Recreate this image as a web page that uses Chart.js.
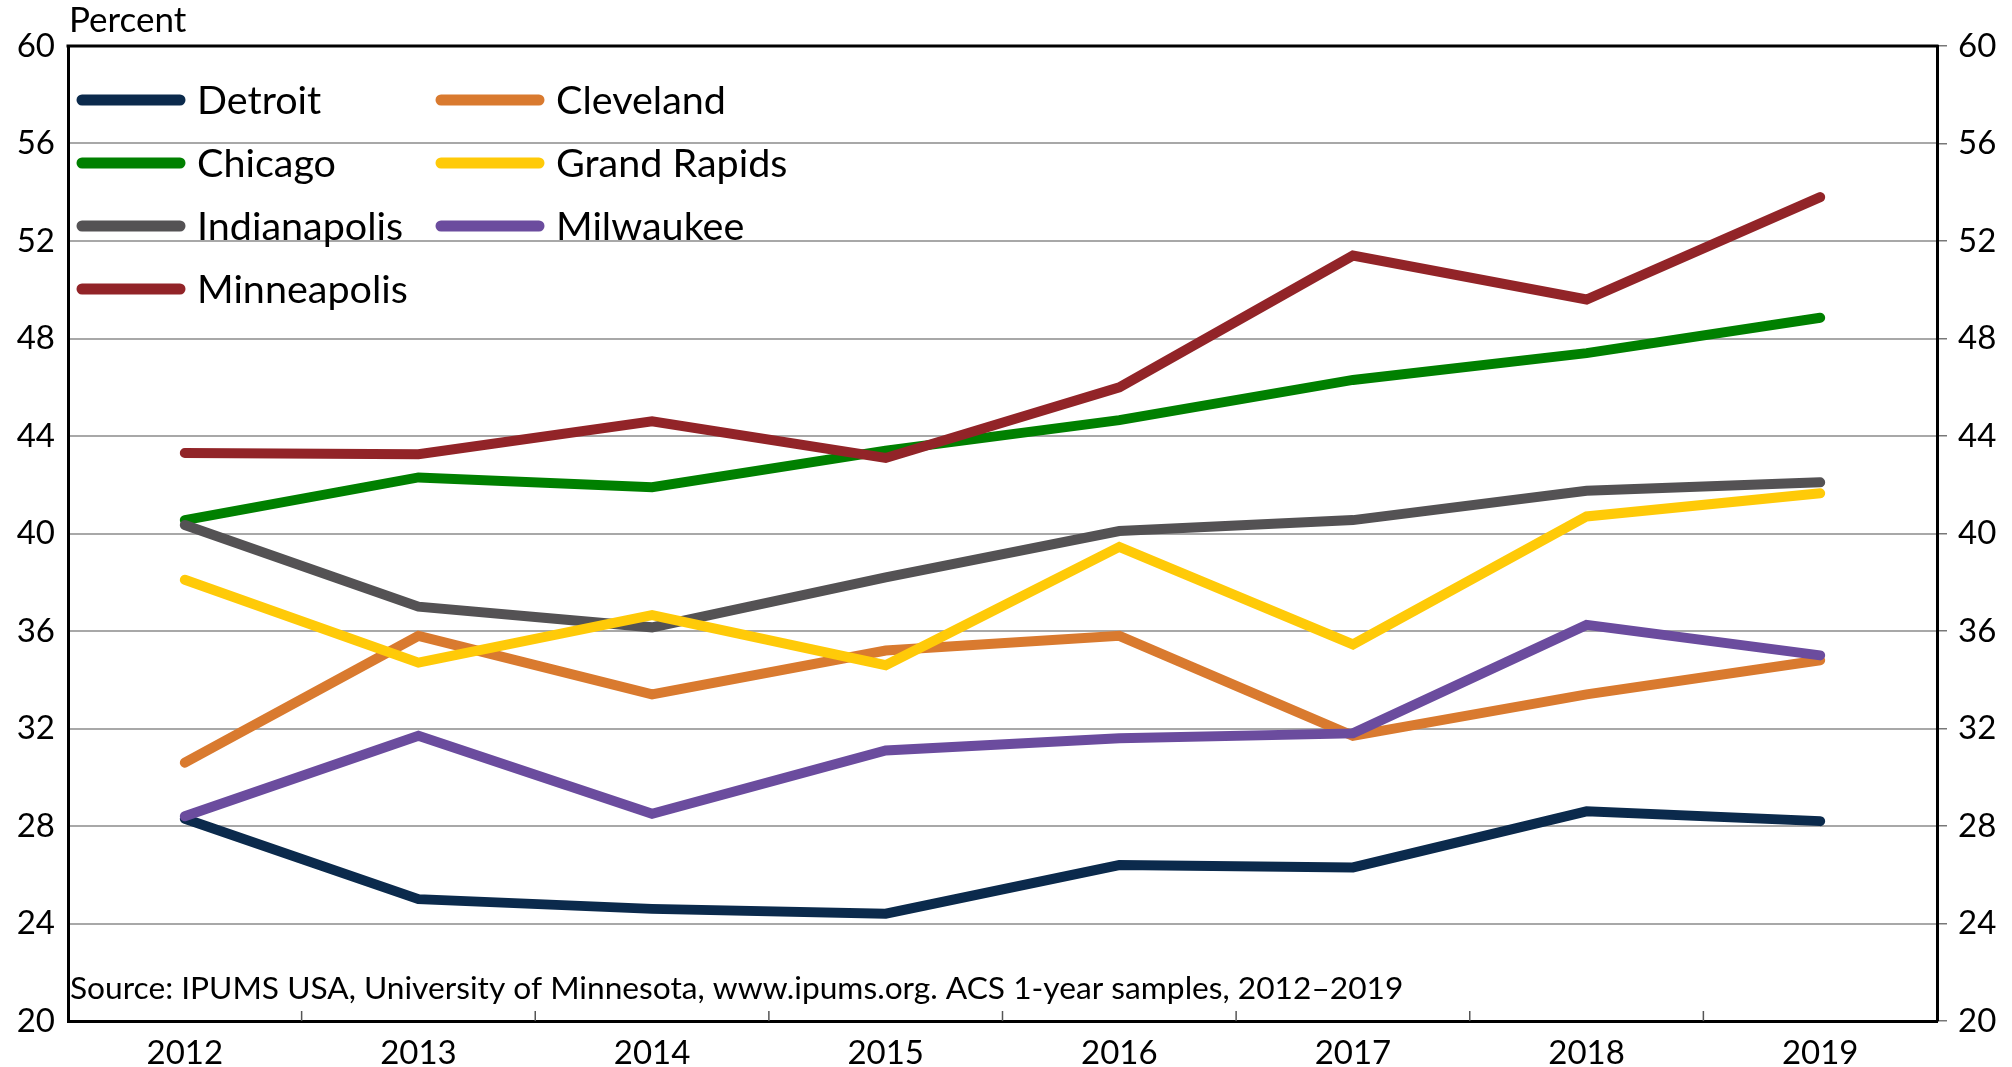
<!DOCTYPE html>
<html>
<head>
<meta charset="utf-8">
<script src="https://cdn.jsdelivr.net/npm/chart.js@4.4.1/dist/chart.umd.min.js"></script>
<style>
  html, body { margin: 0; padding: 0; background: #fff; }
  #wrap { width: 2012px; height: 1067px; }
</style>
</head>
<body>
<div id="wrap"><canvas id="cityChart" width="2012" height="1067"></canvas></div>
<script>
// years on the x axis
const years = ['2012', '2013', '2014', '2015', '2016', '2017', '2018', '2019'];

// percent
const detroit      = [28.3, 25.0, 24.6, 24.4, 26.4, 26.3, 28.6, 28.2];
const chicago      = [40.55, 42.3, 41.9, 43.4, 44.65, 46.3, 47.4, 48.85];
const indianapolis = [40.35, 37.0, 36.15, 38.2, 40.1, 40.55, 41.75, 42.1];
const minneapolis  = [43.3, 43.25, 44.6, 43.1, 46.0, 51.4, 49.6, 53.8];
const cleveland    = [30.6, 35.8, 33.4, 35.2, 35.8, 31.7, 33.4, 34.8];
const grandRapids  = [38.1, 34.7, 36.65, 34.6, 39.45, 35.45, 40.7, 41.65];
const milwaukee    = [28.4, 31.7, 28.5, 31.1, 31.6, 31.8, 36.25, 35.0];

const yMin = 20, yMax = 60, yStep = 4;

const FONT = 'Lato, "Noto Sans", sans-serif';

const series = [
    { label: 'Detroit',      data: detroit,      color: '#0b2a4c' },
    { label: 'Chicago',      data: chicago,      color: '#008000' },
    { label: 'Indianapolis', data: indianapolis, color: '#545254' },
    { label: 'Minneapolis',  data: minneapolis,  color: '#922428' },
    { label: 'Cleveland',    data: cleveland,    color: '#d97a2f' },
    { label: 'Grand Rapids', data: grandRapids,  color: '#ffca08' },
    { label: 'Milwaukee',    data: milwaukee,    color: '#6b4c9e' },
];

// two legend columns, top to bottom
const legendCols = [
    ['Detroit', 'Chicago', 'Indianapolis', 'Minneapolis'],
    ['Cleveland', 'Grand Rapids', 'Milwaukee'],
];

const sourceNote = 'Source: IPUMS USA, University of Minnesota, www.ipums.org. ACS 1-year samples, 2012\u20132019';

// legend, unit label, top border, x ticks and source note
const extras = {
    id: 'extras',
    afterDraw(chart) {
        const ctx = chart.ctx;
        const area = chart.chartArea;
        const x = chart.scales.x;
        ctx.save();

        // top border
        ctx.strokeStyle = '#000';
        ctx.lineWidth = 3;
        ctx.beginPath();
        ctx.moveTo(area.left - 1.5, area.top);
        ctx.lineTo(area.right + 1.5, area.top);
        ctx.stroke();

        // small inner ticks between years
        ctx.strokeStyle = '#555';
        ctx.lineWidth = 1.5;
        for (let i = 0; i < years.length - 1; i++) {
            const px = (x.getPixelForValue(i) + x.getPixelForValue(i + 1)) / 2;
            ctx.beginPath();
            ctx.moveTo(px, area.bottom);
            ctx.lineTo(px, area.bottom - 10);
            ctx.stroke();
        }

        // unit label
        ctx.fillStyle = '#000';
        ctx.font = '35px ' + FONT;
        ctx.textBaseline = 'alphabetic';
        ctx.textAlign = 'left';
        ctx.fillText('Percent', 69, 32);

        // legend
        const colX = [77, 436];
        ctx.font = '39.5px ' + FONT;
        ctx.textBaseline = 'middle';
        legendCols.forEach((col, c) => {
            col.forEach((name, r) => {
                const s = series.find(d => d.label === name);
                const cy = 100 + r * 63;
                ctx.strokeStyle = s.color;
                ctx.lineWidth = 11;
                ctx.lineCap = 'round';
                ctx.beginPath();
                ctx.moveTo(colX[c] + 5, cy);
                ctx.lineTo(colX[c] + 103, cy);
                ctx.stroke();
                ctx.fillStyle = '#000';
                ctx.fillText(name, colX[c] + 120, cy + 1);
            });
        });

        // source note
        ctx.font = '31.7px ' + FONT;
        ctx.textBaseline = 'alphabetic';
        ctx.fillText(sourceNote, area.left + 2, area.bottom - 22);

        ctx.restore();
    }
};

const ctx = document.getElementById('cityChart').getContext('2d');
const chart = new Chart(ctx, {
    type: 'line',
    data: {
        labels: years,
        datasets: series.map((s, i) => ({
            label: s.label,
            data: s.data,
            borderColor: s.color,
            backgroundColor: s.color,
            borderWidth: 10,
            borderCapStyle: 'round',
            borderJoinStyle: 'miter',
            pointRadius: 0,
            tension: 0,
            fill: false,
            order: 10 - i,
        })),
    },
    options: {
        responsive: false,
        animation: false,
        layout: { padding: { top: 46, left: 0, right: 0, bottom: 0 } },
        plugins: {
            legend: { display: false },
            tooltip: { enabled: false },
        },
        scales: {
            x: {
                type: 'category',
                offset: true,
                grid: { display: true, offset: true, drawOnChartArea: false, drawTicks: false },
                border: { display: true, color: '#000', width: 3 },
                ticks: { color: '#000', font: { family: FONT, size: 33 }, padding: 13, maxRotation: 0 },
                afterFit(scale) { scale.height = 46; },
            },
            y: {
                position: 'left',
                min: yMin,
                max: yMax,
                ticks: { stepSize: yStep, color: '#000', font: { family: FONT, size: 33 }, padding: 13 },
                grid: {
                    drawTicks: false,
                    lineWidth: 2,
                    color: c => (c.tick && (c.tick.value === yMin || c.tick.value === yMax)) ? 'rgba(0,0,0,0)' : '#a8a8a8',
                },
                border: { display: true, color: '#000', width: 3 },
                afterFit(scale) { scale.width = 68; },
            },
            y2: {
                position: 'right',
                min: yMin,
                max: yMax,
                ticks: { stepSize: yStep, color: '#000', font: { family: FONT, size: 33 }, padding: 11 },
                grid: { drawOnChartArea: false, drawTicks: true, tickLength: 10, tickColor: '#777', lineWidth: 1.5 },
                border: { display: true, color: '#000', width: 3 },
                afterFit(scale) { scale.width = 75; },
            },
        },
    },
    plugins: [extras],
});
</script>
</body>
</html>
